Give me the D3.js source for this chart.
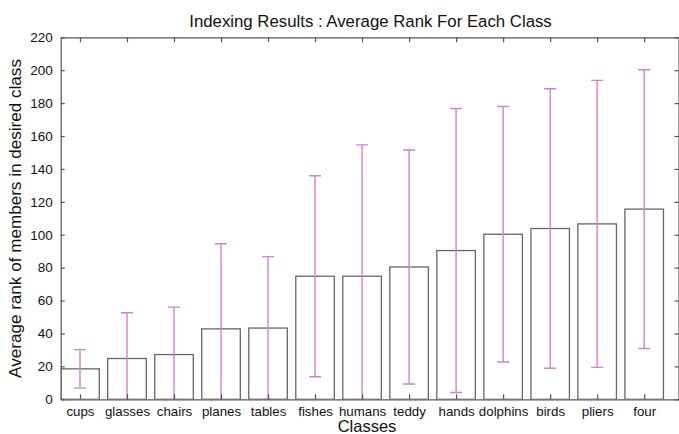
<!DOCTYPE html>
<html>
<head>
<meta charset="utf-8">
<script src="https://cdn.jsdelivr.net/npm/d3@7/dist/d3.min.js"></script>
<style>
  body { margin: 0; background: #fff; }
  text { font-family: "Liberation Sans", Arial, sans-serif; fill: #111; }
</style>
</head>
<body>
<div id="chart"></div>
<script>
// Data
var classes = ["cups", "glasses", "chairs", "planes", "tables", "fishes", "humans",
               "teddy", "hands", "dolphins", "birds", "pliers", "four"];
var avgRank = [18.5, 24.8, 27.2, 42.8, 43.3, 74.8, 74.8, 80.4, 90.4, 100.3, 103.8, 106.6, 115.6];
var stdDev  = [11.7, 27.8, 28.8, 51.7, 43.4, 61.1, 79.8, 71.1, 86.3, 77.6, 84.9, 87.2, 84.7];
var yTicks  = [0, 20, 40, 60, 80, 100, 120, 140, 160, 180, 200, 220];

function init() {
    var w = 679, h = 434,
        left = 60.7, right = 678.5, top = 37.3, bottom = 399.3;

    var svg = d3.select("#chart").append("svg")
        .attr("width", w)
        .attr("height", h);

    var xScale = d3.scaleLinear()
        .domain([0.59, 13.73])
        .range([left, right]);

    var yScale = d3.scaleLinear()
        .domain([0, 220])
        .range([bottom, top]);

    var barHalf = 0.41;

    svg.append("clipPath").attr("id", "plotclip")
        .append("rect")
        .attr("x", left).attr("y", top)
        .attr("width", right - left).attr("height", bottom - top);

    var plot = svg.append("g").attr("clip-path", "url(#plotclip)");

    // Bars
    plot.selectAll("rect.bar")
        .data(avgRank)
        .enter().append("rect")
        .attr("class", "bar")
        .attr("x", (d, i) => xScale(i + 1 - barHalf))
        .attr("width", xScale(1 + barHalf) - xScale(1 - barHalf))
        .attr("y", d => yScale(d))
        .attr("height", d => yScale(0) - yScale(d))
        .style("fill", "#fff")
        .style("stroke", "#666")
        .style("stroke-width", 1.3);

    // Error bars
    var capW = 6;
    var eb = plot.selectAll("g.err")
        .data(avgRank)
        .enter().append("g")
        .attr("class", "err")
        .style("stroke", "#d57fd0")
        .style("stroke-width", 1.4);

    eb.append("line")
        .attr("x1", (d, i) => xScale(i + 1))
        .attr("x2", (d, i) => xScale(i + 1))
        .attr("y1", (d, i) => yScale(d + stdDev[i]))
        .attr("y2", (d, i) => yScale(d - stdDev[i]));

    eb.append("line")
        .attr("x1", (d, i) => xScale(i + 1) - capW)
        .attr("x2", (d, i) => xScale(i + 1) + capW)
        .attr("y1", (d, i) => yScale(d + stdDev[i]))
        .attr("y2", (d, i) => yScale(d + stdDev[i]));

    eb.append("line")
        .attr("x1", (d, i) => xScale(i + 1) - capW)
        .attr("x2", (d, i) => xScale(i + 1) + capW)
        .attr("y1", (d, i) => yScale(d - stdDev[i]))
        .attr("y2", (d, i) => yScale(d - stdDev[i]));

    // Axes (box with inward ticks)
    var xTickVals = classes.map((c, i) => i + 1);

    var yAxis = d3.axisLeft(yScale).tickValues(yTicks).tickSizeInner(-4).tickSizeOuter(0).tickPadding(8);
    var gy = svg.append("g").attr("transform", "translate(" + left + ",0)").call(yAxis);
    gy.selectAll("text").style("font-size", "13.5px");

    var yAxisR = d3.axisRight(yScale).tickValues(yTicks).tickSizeInner(-4).tickSizeOuter(0).tickFormat("");
    svg.append("g").attr("transform", "translate(" + right + ",0)").call(yAxisR);

    var xAxis = d3.axisBottom(xScale).tickValues(xTickVals).tickSizeInner(-5).tickSizeOuter(0)
        .tickPadding(7.5).tickFormat((d, i) => classes[i]);
    var gx = svg.append("g").attr("transform", "translate(0," + bottom + ")").call(xAxis);
    gx.selectAll("text").style("font-size", "13.3px");

    var xAxisT = d3.axisTop(xScale).tickValues(xTickVals).tickSizeInner(-5).tickSizeOuter(0).tickFormat("");
    svg.append("g").attr("transform", "translate(0," + top + ")").call(xAxisT);

    svg.selectAll(".domain, .tick line").style("stroke", "#555").style("stroke-width", 1.2);

    // Title and labels
    svg.append("text")
        .attr("x", 370.5)
        .attr("y", 27)
        .style("text-anchor", "middle")
        .style("font-size", "16.8px")
        .text("Indexing Results : Average Rank For Each Class");

    svg.append("text")
        .attr("x", 367)
        .attr("y", 431.5)
        .style("text-anchor", "middle")
        .style("font-size", "16.5px")
        .text("Classes");

    svg.append("text")
        .attr("transform", "rotate(-90)")
        .attr("x", -218.5)
        .attr("y", 21)
        .style("text-anchor", "middle")
        .style("font-size", "17.1px")
        .text("Average rank of members in desired class");
}

init();
</script>
</body>
</html>
